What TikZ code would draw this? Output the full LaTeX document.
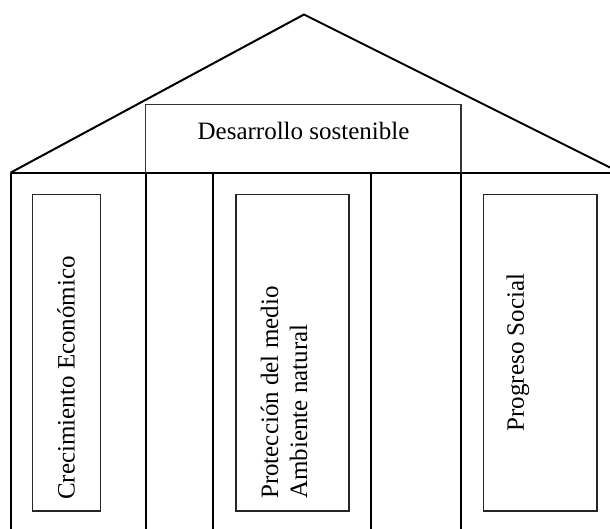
\documentclass[tikz,border=0pt]{standalone}
\usepackage{fontspec}
\setmainfont{Liberation Serif}
\begin{document}
\begin{tikzpicture}[x=1pt,y=-1pt,
  frame/.style={line width=2pt,black},
  pillarbox/.style={draw=black!85,line width=1.4pt},
  topbox/.style={draw=black!80,line width=1.3pt},
  lbl/.style={font=\fontsize{25}{29}\selectfont,inner sep=0pt},
  vlbl/.style={lbl,rotate=90,anchor=west,align=left}]
\useasboundingbox (0,0) rectangle (610,529);
% coordinates
\coordinate (apex) at (304,14.5);
\coordinate (eaveL) at (10.5,172.7);
\coordinate (eaveR) at (610,167.5);
\coordinate (baseR) at (610,172.7);
\coordinate (gL) at (10.5,529);
\coordinate (p1t) at (145.5,172.7); \coordinate (p1b) at (145.5,529);
\coordinate (p2t) at (212.7,172.7); \coordinate (p2b) at (212.7,529);
\coordinate (p3t) at (370.7,172.7); \coordinate (p3b) at (370.7,529);
\coordinate (p4t) at (461,172.7); \coordinate (p4b) at (461,529);
% roof
\draw[frame] (eaveL) -- (apex) -- (eaveR);
\draw[frame] (eaveL) -- (baseR);
% pillars
\draw[frame] (eaveL) -- (gL);
\draw[frame] (p1t) -- (p1b);
\draw[frame] (p2t) -- (p2b);
\draw[frame] (p3t) -- (p3b);
\draw[frame] (p4t) -- (p4b);
% top box
\draw[topbox] (145.5,172.7) -- (145.5,104.8) -- (461,104.8) -- (461,172.7);
\node[lbl] (ds) at (303.5,131) {Desarrollo sostenible};
% pillar boxes
\draw[pillarbox] (32.7,194.3) rectangle (100.7,511);
\draw[pillarbox] (236,194.3) rectangle (349,511);
\draw[pillarbox] (483.7,194.3) rectangle (597,511);
\node[vlbl] (ce) at (66,500) {Crecimiento Económico};
\node[vlbl] (pm) at (284,499) {Protección del medio\\Ambiente natural};
\node[lbl,rotate=90] (ps) at (518,352.5) {Progreso Social};
\end{tikzpicture}
\end{document}
